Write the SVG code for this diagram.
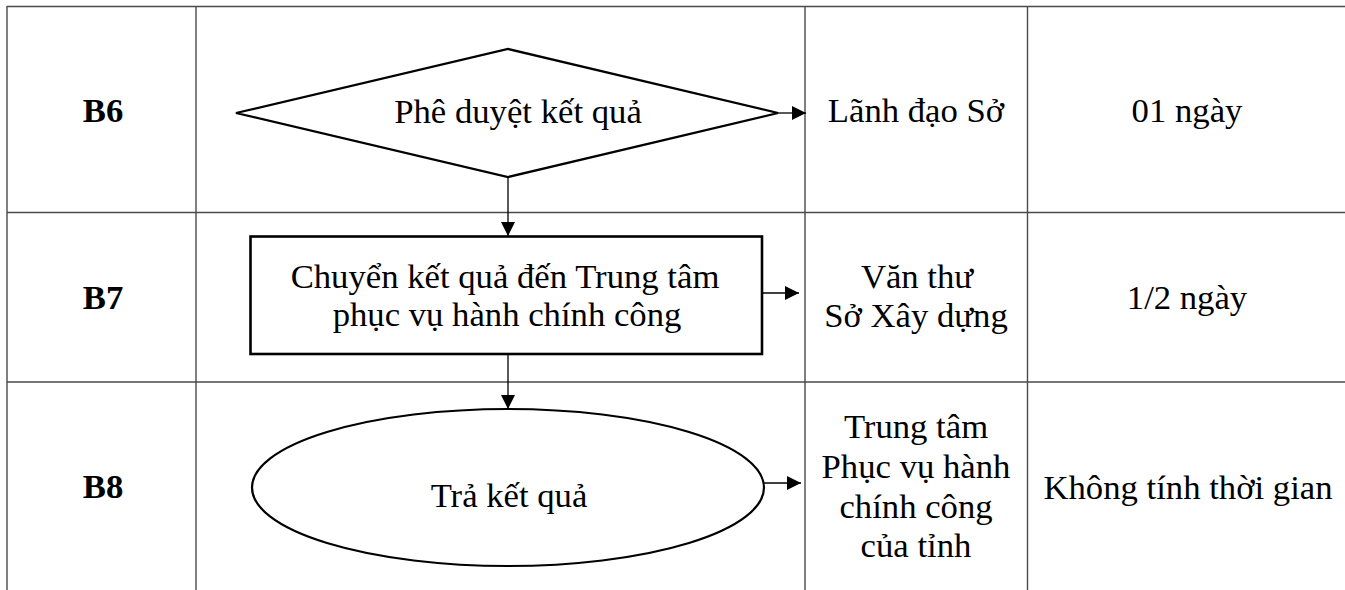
<svg xmlns="http://www.w3.org/2000/svg" width="1345" height="590" viewBox="0 0 1345 590">
<style>
.grid{stroke:#4a4a4a;stroke-width:1.4;fill:none}
.shape{stroke:#000;fill:#fff}
.conn{stroke:#000;stroke-width:1.3;fill:none}
text{font-family:"Liberation Serif","Times New Roman",serif;font-size:34.7px;fill:#000;text-anchor:middle}
.b{font-weight:bold}
</style>
<defs>
<marker id="arr" markerUnits="userSpaceOnUse" markerWidth="14" markerHeight="14" refX="14" refY="7" orient="auto">
<path d="M0,0 L14,7 L0,14 z" fill="#000"/>
</marker>
</defs>
<rect width="1345" height="590" fill="#fff"/>
<g id="table">
<line class="grid" x1="7" y1="6.5" x2="1345" y2="6.5"/>
<line class="grid" x1="7" y1="212.5" x2="1345" y2="212.5"/>
<line class="grid" x1="7" y1="382" x2="1345" y2="382"/>
<line class="grid" x1="7" y1="6" x2="7" y2="590"/>
<line class="grid" x1="196" y1="6" x2="196" y2="590"/>
<line class="grid" x1="805" y1="6" x2="805" y2="590"/>
<line class="grid" x1="1027.5" y1="6" x2="1027.5" y2="590"/>
</g>
<g id="row-labels">
<text class="b" x="103" y="122">B6</text>
<text class="b" x="103" y="309">B7</text>
<text class="b" x="103" y="498">B8</text>
</g>
<g id="node-b6">
<polygon class="shape" stroke-width="2.2" points="236,113 508,49 778,113 508,177"/>
<text x="518" y="123">Phê duyệt kết quả</text>
</g>
<g id="node-b7">
<rect class="shape" stroke-width="2.6" x="250.5" y="236.5" width="511.5" height="117.5"/>
<text x="505" y="288">Chuyển kết quả đến Trung tâm</text>
<text x="507" y="326">phục vụ hành chính công</text>
</g>
<g id="node-b8">
<ellipse class="shape" stroke-width="2.2" cx="508" cy="487.5" rx="256" ry="78.5"/>
<text x="509" y="507">Trả kết quả</text>
</g>
<g id="actors">
<text x="916" y="122">Lãnh đạo Sở</text>
<text x="917" y="288">Văn thư</text>
<text x="916" y="327">Sở Xây dựng</text>
<text x="916" y="438">Trung tâm</text>
<text x="916" y="478">Phục vụ hành</text>
<text x="916" y="518">chính công</text>
<text x="916" y="557">của tỉnh</text>
</g>
<g id="durations">
<text x="1187" y="122">01 ngày</text>
<text x="1187" y="309">1/2 ngày</text>
<text x="1188" y="499">Không tính thời gian</text>
</g>
<g id="connectors">
<line class="conn" x1="778" y1="113" x2="806" y2="113" marker-end="url(#arr)"/>
<line class="conn" x1="508" y1="177" x2="508" y2="236" marker-end="url(#arr)"/>
<line class="conn" x1="763" y1="293" x2="799" y2="293" marker-end="url(#arr)"/>
<line class="conn" x1="508" y1="355" x2="508" y2="409" marker-end="url(#arr)"/>
<line class="conn" x1="764" y1="483" x2="801" y2="483" marker-end="url(#arr)"/>
</g>
</svg>
